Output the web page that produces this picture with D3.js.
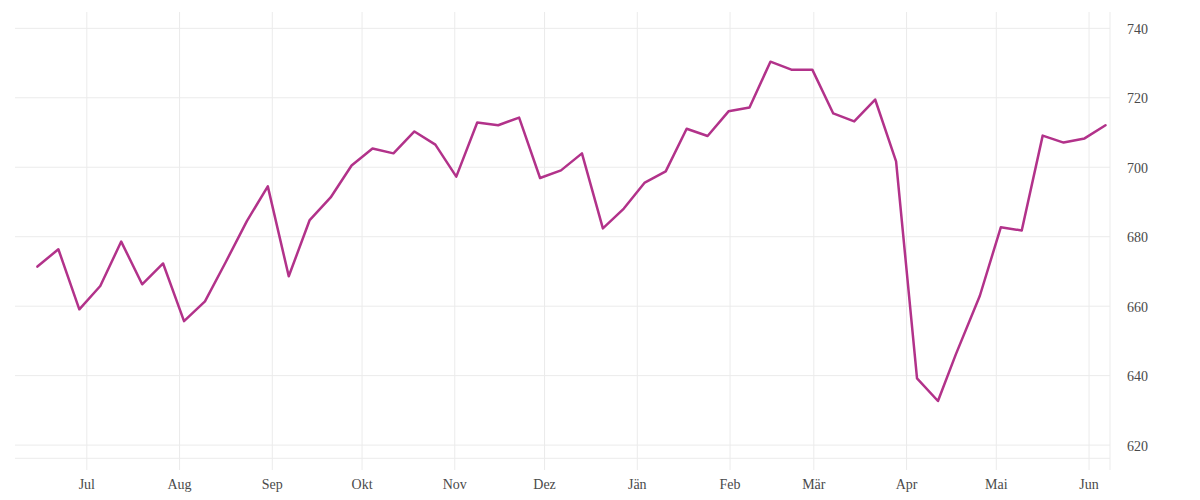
<!DOCTYPE html>
<html>
<head>
<meta charset="utf-8">
<script src="https://cdn.jsdelivr.net/npm/d3@7"></script>
<style>
  html, body { margin: 0; padding: 0; background: #fff; }
  svg { display: block; }
  text { font-family: "Liberation Serif", "DejaVu Serif", serif; fill: #4a4a4a; }
</style>
</head>
<body>
<svg id="chart" width="1200" height="500"></svg>
<script>
// ---- data ----
const dates = [
  "2024-06-14","2024-06-21","2024-06-28",
  "2024-07-05","2024-07-12","2024-07-19","2024-07-26",
  "2024-08-02","2024-08-09","2024-08-16","2024-08-23","2024-08-30",
  "2024-09-06","2024-09-13","2024-09-20","2024-09-27",
  "2024-10-04","2024-10-11","2024-10-18","2024-10-25",
  "2024-11-01","2024-11-08","2024-11-15","2024-11-22","2024-11-29",
  "2024-12-06","2024-12-13","2024-12-20","2024-12-27",
  "2025-01-03","2025-01-10","2025-01-17","2025-01-24","2025-01-31",
  "2025-02-07","2025-02-14","2025-02-21","2025-02-28",
  "2025-03-07","2025-03-14","2025-03-21","2025-03-28",
  "2025-04-04","2025-04-11","2025-04-17","2025-04-25",
  "2025-05-02","2025-05-09","2025-05-16","2025-05-23","2025-05-30",
  "2025-06-06"
];
const values = [
  671.4, 676.4, 659.1,
  665.8, 678.6, 666.3, 672.3,
  655.7, 661.4, 672.8, 684.5, 694.5,
  668.6, 684.8, 691.3, 700.5,
  705.4, 704.0, 710.3, 706.5,
  697.3, 712.9, 712.1, 714.3, 696.9,
  699.1, 704.0, 682.4, 688.1,
  695.6, 698.8, 711.1, 709.0, 716.1,
  717.2, 730.4, 728.1, 728.1,
  715.5, 713.2, 719.5, 701.7,
  639.2, 632.7, 646.2, 663.0,
  682.7, 681.8, 709.1, 707.1, 708.3,
  712.1
];
const monthLabels = ["Jul","Aug","Sep","Okt","Nov","Dez","Jän","Feb","Mär","Apr","Mai","Jun"];
const yTicks = [620, 640, 660, 680, 700, 720, 740];
const xDomain = ["2024-06-07", "2025-06-08"];
const yDomain = [616.2, 744.7];

// ---- layout ----
const parse = d3.utcParse("%Y-%m-%d");
const mLeft = 15, mRight = 1110, mTop = 12, mBottom = 458.3, gridBottom = 470;

const x = d3.scaleUtc().domain(xDomain.map(parse)).range([mLeft, mRight]);
const y = d3.scaleLinear().domain(yDomain).range([mBottom, mTop]);

const svg = d3.select("#chart");
// points sit at mid-day of their date
const data = dates.map((d, i) => ({ date: d3.utcHour.offset(parse(d), 12), value: values[i] }));

// horizontal grid
const g = svg.append("g");
g.selectAll("line.h").data(yTicks).join("line")
  .attr("x1", mLeft).attr("x2", mRight)
  .attr("y1", d => y(d)).attr("y2", d => y(d))
  .attr("stroke", "#ebebeb").attr("stroke-width", 1);
g.append("line")
  .attr("x1", mLeft).attr("x2", mRight)
  .attr("y1", mBottom).attr("y2", mBottom)
  .attr("stroke", "#ebebeb").attr("stroke-width", 1);

// vertical grid (month starts)
const monthTicks = d3.utcMonth.range(parse("2024-07-01"), parse("2025-06-02"));
g.selectAll("line.v").data(monthTicks).join("line")
  .attr("x1", d => x(d)).attr("x2", d => x(d))
  .attr("y1", mTop).attr("y2", gridBottom)
  .attr("stroke", "#ebebeb").attr("stroke-width", 1);
g.append("line")
  .attr("x1", mRight).attr("x2", mRight)
  .attr("y1", mTop).attr("y2", gridBottom)
  .attr("stroke", "#ebebeb").attr("stroke-width", 1);

// x labels
svg.append("g").selectAll("text").data(monthTicks).join("text")
  .attr("x", d => x(d)).attr("y", 489)
  .attr("text-anchor", "middle")
  .style("font-size", "14px")
  .text((d, i) => monthLabels[i]);

// y labels
svg.append("g").selectAll("text").data(yTicks).join("text")
  .attr("x", 1127).attr("y", d => y(d) + 5.5)
  .attr("text-anchor", "start")
  .style("font-size", "14px")
  .text(d => d);

// line
const line = d3.line().x(d => x(d.date)).y(d => y(d.value));
svg.append("path").datum(data)
  .attr("d", line)
  .attr("fill", "none")
  .attr("stroke", "#b2328a")
  .attr("stroke-width", 2.5)
  .attr("stroke-linejoin", "round")
  .attr("stroke-linecap", "round");
</script>
</body>
</html>
